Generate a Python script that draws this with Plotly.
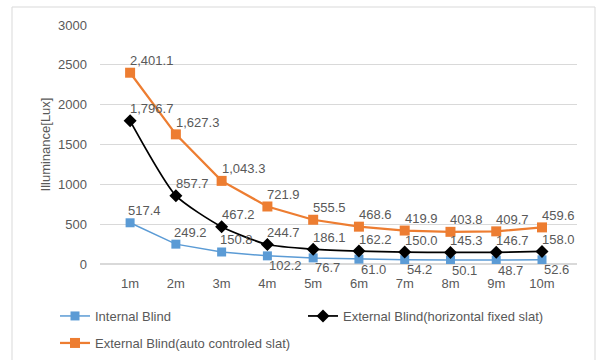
import plotly.graph_objects as go

# Distance from the window and measured illuminance for each blind type
distances = ["1m", "2m", "3m", "4m", "5m", "6m", "7m", "8m", "9m", "10m"]
internal_blind = [517.4, 249.2, 150.8, 102.2, 76.7, 61.0, 54.2, 50.1, 48.7, 52.6]
external_fixed = [1796.7, 857.7, 467.2, 244.7, 186.1, 162.2, 150.0, 145.3, 146.7, 158.0]
external_auto = [2401.1, 1627.3, 1043.3, 721.9, 555.5, 468.6, 419.9, 403.8, 409.7, 459.6]

y_ticks = [0, 500, 1000, 1500, 2000, 2500, 3000]

# label placement for the internal-blind series (above / below the marker)
internal_label_side = ["above"] * 3 + ["below"] * 7

BLUE = "#5B9BD5"
ORANGE = "#ED7D31"
BLACK = "#000000"
TEXT = "#595959"
GRID = "#D9D9D9"
FONT = "Liberation Sans, Arial, sans-serif"

W, H = 599, 360

fig = go.Figure()

fig.add_trace(go.Scatter(
    x=distances, y=internal_blind, name="Internal Blind",
    mode="lines+markers",
    line=dict(color=BLUE, width=1.5),
    marker=dict(symbol="square", size=9, color=BLUE),
    legend="legend",
))
fig.add_trace(go.Scatter(
    x=distances, y=external_fixed, name="External Blind(horizontal fixed slat)",
    mode="lines+markers",
    line=dict(color=BLACK, width=1.75, shape="spline", smoothing=0.6),
    marker=dict(symbol="diamond", size=10, color=BLACK),
    legend="legend3",
))
fig.add_trace(go.Scatter(
    x=distances, y=external_auto, name="External Blind(auto controled slat)",
    mode="lines+markers",
    line=dict(color=ORANGE, width=2.25),
    marker=dict(symbol="square", size=10, color=ORANGE),
    legend="legend2",
))

annotations = []


def add_labels(values, sides, xshift_above, xshift_below):
    for cat, v, side in zip(distances, values, sides):
        above = side == "above"
        annotations.append(dict(
            x=cat, y=v, xref="x", yref="y",
            text=f"{v:,.1f}", showarrow=False,
            xanchor="left", yanchor="middle",
            xshift=xshift_above if above else xshift_below,
            yshift=12 if above else -10,
            font=dict(family=FONT, size=13, color=TEXT),
        ))


add_labels(internal_blind, internal_label_side, -4, 0)
add_labels(external_fixed, ["above"] * len(distances), -2, 0)
add_labels(external_auto, ["above"] * len(distances), -2, 0)

legend_common = dict(
    orientation="h", xref="container", yref="container",
    xanchor="left", yanchor="middle",
    font=dict(family=FONT, size=13, color=TEXT),
    bgcolor="rgba(0,0,0,0)", itemwidth=30,
)

fig.update_layout(
    width=W, height=H,
    margin=dict(l=100, r=22, t=25, b=96, autoexpand=False),
    paper_bgcolor="white", plot_bgcolor="white",
    font=dict(family=FONT, size=13, color=TEXT),
    annotations=annotations,
    showlegend=True,
    legend=dict(x=55 / W, y=1 - 316 / H, **legend_common),
    legend3=dict(x=303 / W, y=1 - 316 / H, **legend_common),
    legend2=dict(x=55 / W, y=1 - 343 / H, **legend_common),
    shapes=[dict(
        type="rect", xref="paper", yref="paper",
        x0=(12 - 100) / 477, x1=(595 - 100) / 477,
        y0=(264 - 365) / 239, y1=(264 - 7) / 239,
        line=dict(color=GRID, width=1), layer="below",
    )],
)

fig.update_xaxes(
    type="category", showgrid=False, showline=False, zeroline=False,
    ticks="", tickfont=dict(family=FONT, size=13, color=TEXT),
    ticklabelstandoff=10,
)
fig.update_yaxes(
    range=[0, 3000], tickvals=y_ticks, ticktext=[str(t) for t in y_ticks],
    showgrid=True, gridcolor=GRID, gridwidth=1,
    zeroline=True, zerolinecolor=GRID, zerolinewidth=1.5,
    showline=False, ticks="",
    tickfont=dict(family=FONT, size=13, color=TEXT),
    ticklabelstandoff=12,
    title=dict(text="Illuminance[Lux]", font=dict(family=FONT, size=13, color=TEXT),
               standoff=4),
)

fig.write_html("out.html")
